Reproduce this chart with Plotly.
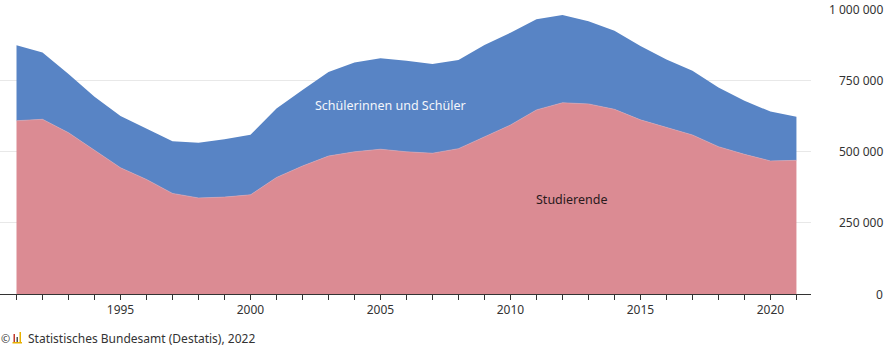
import plotly.graph_objects as go

years = list(range(1991, 2022))

studierende = [608000, 613000, 566000, 503000, 443000, 402000, 353000, 337000, 340000, 348000,
               409000, 449000, 484000, 499000, 508000, 499000, 494000, 510000, 552000, 593000,
               646000, 671000, 667000, 648000, 611000, 584000, 558000, 517000, 490000, 467000,
               469000]

gesamt = [873000, 847000, 772000, 692000, 625000, 581000, 536000, 531000, 543000, 559000,
          651000, 716000, 779000, 812000, 827000, 818000, 807000, 821000, 874000, 917000,
          964000, 979000, 957000, 924000, 870000, 823000, 783000, 725000, 678000, 640000,
          622000]

schueler = [g - s for g, s in zip(gesamt, studierende)]

x_tick_vals = [1995, 2000, 2005, 2010, 2015, 2020]
y_tick_vals = [0, 250000, 500000, 750000, 1000000]
y_tick_text = ["0", "250 000", "500 000", "750 000", "1 000 000"]

label_schueler = "Schülerinnen und Schüler"
label_studierende = "Studierende"
label_pos = {label_schueler: (2005.37, 663000), label_studierende: (2012.37, 333000)}

FONT = "Noto Sans"
BLUE = "#5884c5"
PINK = "#db8b93"

fig = go.Figure()
fig.add_trace(go.Scatter(x=years, y=studierende, stackgroup="one", mode="lines",
                         line=dict(width=0.6, color="#e6a3aa"), fillcolor=PINK,
                         name=label_studierende, hoverinfo="x+y"))
fig.add_trace(go.Scatter(x=years, y=schueler, stackgroup="one", mode="lines",
                         line=dict(width=0), fillcolor=BLUE,
                         name=label_schueler, hoverinfo="x+y"))

fig.update_layout(
    width=889, height=347,
    margin=dict(l=0, r=78, t=9, b=53),
    plot_bgcolor="white", paper_bgcolor="white",
    showlegend=False,
    font=dict(family=FONT, size=12, color="#333333"),
    xaxis=dict(
        range=[1990.365, 2021.56],
        tickvals=x_tick_vals,
        ticks="outside", ticklen=5, tickcolor="#333333", tickwidth=1,
        showline=True, linecolor="#333333", linewidth=1,
        showgrid=False, zeroline=False,
        tickfont=dict(family=FONT, size=12, color="#333333"),
        minor=dict(dtick=1, tick0=1991, ticks="outside", ticklen=5,
                   tickcolor="#333333", tickwidth=1, showgrid=False),
    ),
    yaxis=dict(
        range=[0, 1000000], side="right",
        tickvals=y_tick_vals, showticklabels=False,
        showgrid=True, gridcolor="#e8e8e8", gridwidth=1,
        zeroline=False, showline=False, ticks="",
    ),
)

for val, txt in zip(y_tick_vals, y_tick_text):
    fig.add_annotation(x=1.0912, xref="paper", y=val, yref="y", text=txt,
                       showarrow=False, xanchor="right", yanchor="middle",
                       font=dict(family=FONT, size=12, color="#333333"))

for lbl, col in [(label_schueler, "#f4f6fb"), (label_studierende, "#2a1a1c")]:
    lx, ly = label_pos[lbl]
    fig.add_annotation(x=lx, y=ly, text=lbl, showarrow=False,
                       font=dict(family=FONT, size=12.5, color=col))

# footer
fy = (294 - 338) / 285
fig.add_annotation(x=0, xref="paper", y=fy, yref="paper", yanchor="middle", xanchor="left",
                   text="©", showarrow=False, xshift=-1, font=dict(family=FONT, size=11, color="#333333"))
fig.add_annotation(x=26 / 811, xref="paper", y=fy, yref="paper", yanchor="middle", xanchor="left",
                   text="Statistisches Bundesamt (Destatis), 2022", showarrow=False,
                   font=dict(family=FONT, size=12, color="#333333"))
# small chart icon next to ©
icon = [(13.5, 15.0, 334, 342, "#c0392b"), (16.5, 18.0, 337, 342, "#555555"), (19.5, 21.0, 332, 342, "#e8b100")]
for x0, x1, y0, y1, c in icon:
    fig.add_shape(type="rect", xref="paper", yref="paper",
                  x0=x0 / 811, x1=x1 / 811, y0=(294 - y1) / 285, y1=(294 - y0) / 285,
                  fillcolor=c, line=dict(width=0))
fig.add_shape(type="rect", xref="paper", yref="paper",
              x0=12.5 / 811, x1=22 / 811, y0=(294 - 343.5) / 285, y1=(294 - 342) / 285,
              fillcolor="#e8b100", line=dict(width=0))

fig.write_html("out.html")
